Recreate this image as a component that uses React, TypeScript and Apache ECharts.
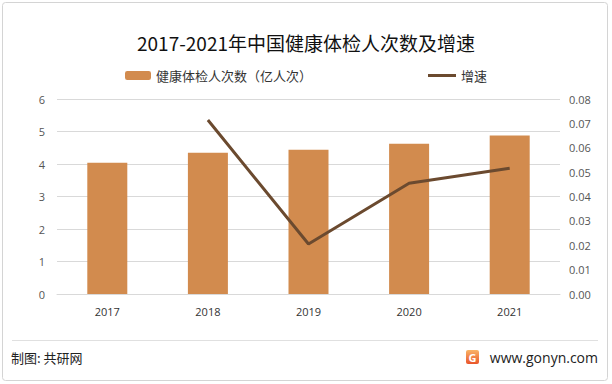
import React, { useEffect, useRef } from "react";
import * as echarts from "echarts";

const years = ["2017", "2018", "2019", "2020", "2021"];
const checkups = [4.04, 4.35, 4.44, 4.62, 4.88];
const growth: (number | null)[] = [null, 0.0714, 0.0205, 0.0454, 0.0516];
const barName = "健康体检人次数（亿人次）";
const lineName = "增速";
const titleText = "2017-2021年中国健康体检人次数及增速";

export default function App() {
  const ref = useRef<HTMLDivElement>(null);
  useEffect(() => {
    document.body.style.margin = "0";
    const chart = echarts.init(ref.current!, undefined, { renderer: "svg" });
    const font = "'Noto Sans CJK SC', 'Noto Sans', sans-serif";
    chart.setOption({
      animation: false,
      backgroundColor: "#ffffff",
      textStyle: { fontFamily: font },
      title: {
        text: titleText,
        left: "center",
        top: 28,
        textStyle: { fontSize: 19, fontWeight: "normal", color: "#111", fontFamily: font },
      },
      legend: [
        {
          data: [barName],
          left: 125,
          top: 69,
          padding: 0,
          itemWidth: 26,
          itemHeight: 9,
          itemGap: 4,
          textStyle: { fontSize: 13, color: "#333", fontFamily: font },
        },
        {
          data: [{ name: lineName, icon: "rect" }],
          left: 428,
          top: 69,
          padding: 0,
          itemWidth: 28,
          itemHeight: 3,
          textStyle: { fontSize: 13, color: "#333", fontFamily: font },
        },
      ],
      grid: { left: 57, right: 52, top: 99, bottom: 90 },
      xAxis: {
        type: "category",
        data: years,
        axisTick: { show: false },
        axisLine: { lineStyle: { color: "#d9d9d9" } },
        axisLabel: { color: "#333", fontSize: 11, margin: 12, fontFamily: "'Open Sans', sans-serif" },
      },
      yAxis: [
        {
          type: "value",
          min: 0,
          max: 6,
          interval: 1,
          axisLine: { show: false },
          axisTick: { show: false },
          splitLine: { lineStyle: { color: "#d9d9d9" } },
          axisLabel: { color: "#555", fontSize: 11, margin: 12, fontFamily: "'Open Sans', sans-serif" },
        },
        {
          type: "value",
          min: 0,
          max: 0.08,
          interval: 0.01,
          axisLine: { show: false },
          axisTick: { show: false },
          splitLine: { show: false },
          axisLabel: {
            color: "#555",
            fontSize: 11,
            margin: 9,
            fontFamily: "'Open Sans', sans-serif",
            formatter: (v: number) => v.toFixed(2),
          },
        },
      ],
      series: [
        {
          name: barName,
          type: "bar",
          data: checkups,
          barWidth: 40,
          itemStyle: { color: "#D28B4E" },
        },
        {
          name: lineName,
          type: "line",
          yAxisIndex: 1,
          data: growth,
          symbol: "none",
          lineStyle: { color: "#6B4A2F", width: 3 },
          itemStyle: { color: "#6B4A2F" },
        },
      ],
      graphic: [
        {
          type: "rect",
          shape: { x: 2.5, y: 2.5, width: 605, height: 378, r: 3 },
          style: { fill: "none", stroke: "#d4d4d4", lineWidth: 1 },
          silent: true,
        },
        {
          type: "line",
          shape: { x1: 12, y1: 340.5, x2: 598, y2: 340.5 },
          style: { stroke: "#e0e0e0", lineWidth: 1 },
        },
        {
          type: "text",
          x: 11,
          y: 357,
          style: {
            text: "制图: 共研网",
            fontSize: 13,
            fill: "#222",
            fontFamily: font,
            verticalAlign: "middle",
          },
        },
        {
          type: "rect",
          shape: { x: 466, y: 350, width: 13, height: 14, r: 2 },
          style: {
            fill: new echarts.graphic.LinearGradient(0, 0, 0, 1, [
              { offset: 0, color: "#f9b466" },
              { offset: 1, color: "#e9542a" },
            ]),
          },
        },
        {
          type: "text",
          x: 472.5,
          y: 357.5,
          style: {
            text: "G",
            fontSize: 11,
            fontWeight: "bold",
            fill: "#fff",
            align: "center",
            verticalAlign: "middle",
            fontFamily: "'Open Sans', sans-serif",
          },
        },
        {
          type: "text",
          x: 598,
          y: 357,
          style: {
            text: "www.gonyn.com",
            fontSize: 14,
            fill: "#222",
            align: "right",
            verticalAlign: "middle",
            fontFamily: "'Open Sans', sans-serif",
          },
        },
      ],
    });
    return () => chart.dispose();
  }, []);
  return <div ref={ref} style={{ width: 612, height: 384 }} />;
}
